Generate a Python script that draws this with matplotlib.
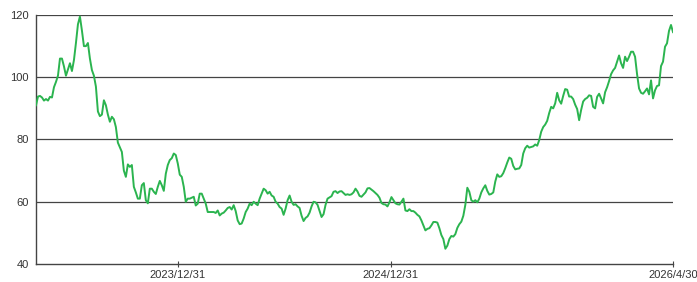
import matplotlib
matplotlib.use('Agg')
import matplotlib.pyplot as plt
import pandas as pd

# price series, roughly every 3-4 days
start_date = '2023-05-01'
end_date = '2026-04-30'
prices = [
  91, 93.8, 94, 93.5, 92.5, 93, 92.5, 93.7, 93.5, 96.8,
  98.5, 100.5, 106, 106, 103.5, 100.5, 102.5, 104.5, 102, 105.5,
  111, 117, 119.5, 115, 110, 110, 111, 106, 102.3, 100.5,
  97, 89, 87.5, 88, 92.6, 91, 88, 85.7, 87.3, 86.5,
  84, 79, 77.5, 76, 70, 68, 72, 71.2, 71.8, 64.8,
  63, 61, 61, 65.3, 66, 60.5, 59.5, 64.2, 64.2, 63.2,
  62.5, 64.8, 66.7, 65.3, 63.5, 69, 71.8, 73.4, 74, 75.5,
  75, 72.3, 68.7, 68, 64.8, 60, 61, 61, 61.3, 61.6,
  58.8, 59.4, 62.6, 62.6, 61, 59.4, 56.7, 56.7, 56.7, 56.7,
  56.4, 57.2, 55.6, 56.2, 56.5, 57.2, 58, 58.3, 57.5, 58.9,
  57, 54, 52.8, 53, 54.6, 56.7, 57.8, 59.4, 58.9, 60,
  59.4, 58.9, 61, 62.6, 64.2, 63.7, 62.6, 63.2, 62, 61.6,
  60, 59.4, 58.3, 57.8, 55.8, 57.8, 60.5, 62, 60, 59,
  59.2, 58.5, 58, 55.5, 53.8, 54.8, 55.3, 56.5, 58.5, 60,
  59.8, 59, 57, 55.1, 56, 59, 61, 61.4, 61.8, 63.2,
  63.4, 62.8, 63.3, 63.4, 62.8, 62.2, 62.4, 62.2, 62.4, 63,
  64.2, 63.3, 61.9, 61.6, 62.3, 63, 64.3, 64.4, 63.9, 63.4,
  62.8, 62.2, 61.3, 59.6, 59.2, 59.1, 58.5, 59.8, 61.5, 60.5,
  59.5, 59.2, 59.1, 60, 61, 57.2, 57, 57.6, 57, 57,
  56.5, 55.8, 55.3, 54, 52.4, 50.8, 51.3, 51.5, 52.4, 53.5,
  53.5, 53.3, 51.5, 49.3, 48, 44.9, 45.9, 48, 49, 48.8,
  49.6, 51.6, 52.8, 53.6, 55.5, 59, 64.5, 63.2, 60.5, 60,
  60.5, 59.8, 61, 63, 64.3, 65.3, 63.5, 62.3, 62.5, 63,
  66.5, 68.8, 68, 68.2, 69.2, 70.8, 72.6, 74.2, 73.8, 71.5,
  70.4, 70.6, 70.7, 71.8, 75.5, 77.2, 78, 77.4, 77.6, 77.8,
  78.4, 78, 79.8, 82.5, 84, 84.8, 86, 88.5, 90.5, 90,
  91.6, 95, 92.6, 91.5, 94, 96.2, 96, 93.8, 93.8, 93,
  91.2, 89.8, 86.2, 89.5, 92.2, 93, 93.4, 94.2, 94, 90.5,
  90, 93.7, 94.7, 93.2, 91.6, 95.2, 96.8, 98.8, 101, 102.2,
  103, 105, 107, 104.5, 103, 106.6, 105.2, 106.6, 108.2, 108.2,
  106.6, 101, 96.4, 95, 94.7, 95.5, 96.4, 94.5, 99, 93.2,
  95.8, 97.2, 97.4, 103.6, 105, 109.8, 110.9, 114.9, 116.8, 114.5,
]
y_ticks = [40, 60, 80, 100, 120]
x_ticks = ['2023-12-31', '2024-12-31', '2026-04-30']
x_labels = ['2023/12/31', '2024/12/31', '2026/4/30']

dates = pd.date_range(start_date, end_date, periods=len(prices))

plt.rcParams['font.family'] = ['Liberation Sans', 'DejaVu Sans']

fig = plt.figure(figsize=(6.97, 2.82), dpi=100)
ax = fig.add_axes([36/697, 18/282, 637/697, 249/282])

ax.plot(dates, prices, '-', color='#2bb44f', lw=1.4, zorder=3)

ax.set_ylim(40, 120)
ax.set_xlim(dates[0], dates[-1])
ax.set_yticks(y_ticks)
for v in y_ticks[1:]:
  ax.axhline(v, color='#444444', lw=0.9, zorder=1)

ax.set_xticks(pd.to_datetime(x_ticks))
ax.set_xticklabels(x_labels)

for s in ['top', 'right']:
  ax.spines[s].set_visible(False)
for s in ['left', 'bottom']:
  ax.spines[s].set_color('#444444')
  ax.spines[s].set_linewidth(1.0)

ax.tick_params(axis='y', length=0, pad=5, labelsize=8, labelcolor='#333333')
ax.tick_params(axis='x', direction='inout', length=5, width=0.8, color='#444444',
               pad=1.5, labelsize=8, labelcolor='#333333')

fig.savefig('out.png', dpi=100)
